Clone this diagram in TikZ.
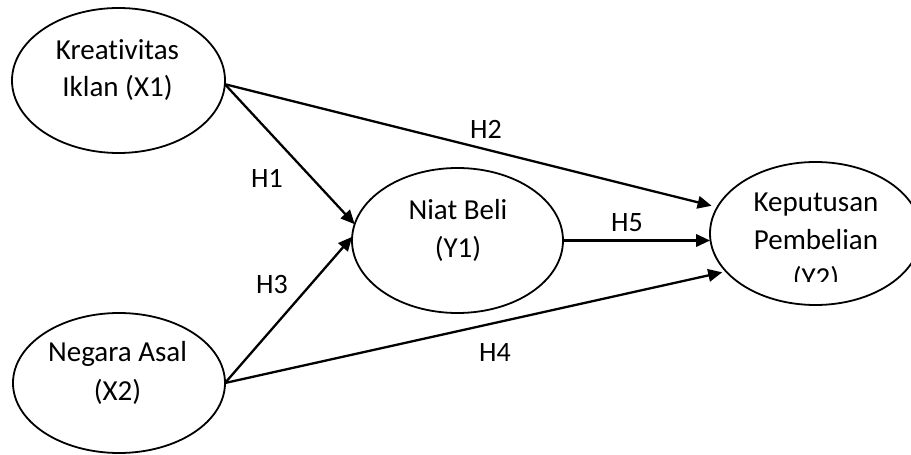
\documentclass[tikz,border=0pt]{standalone}
\usepackage{fontspec}
\setmainfont{Carlito}[Ligatures={NoCommon}]
\usetikzlibrary{shapes.geometric,arrows.meta}
\begin{document}
\begin{tikzpicture}[x=1bp,y=-1bp,
  var/.style={draw,ellipse,line width=1.8bp,inner sep=0pt,outer sep=0pt},
  txt/.style={anchor=base,inner sep=0pt,font=\fontsize{29bp}{35bp}\selectfont},
  hyp/.style={anchor=base,inner sep=0pt,font=\fontsize{28bp}{34bp}\selectfont},
  arr/.style={line width=2.3bp,-{Triangle[length=14bp,width=12.5bp]}}]
\clip (0,0) rectangle (911,455);
\fill[white] (0,0) rectangle (911,455);
% ellipses
\node[var,minimum width=213bp,minimum height=145bp] (x1) at (118.5,80.5) {};
\node[var,minimum width=212bp,minimum height=140bp] (x2) at (119,383) {};
\node[var,minimum width=211bp,minimum height=145bp] (y1) at (457.5,240.5) {};
\node[var,minimum width=211bp,minimum height=143bp] (y2) at (815.5,233.5) {};
% texts
\node[txt] (t11) at (117.5,60) {Kreativitas};
\node[txt] (t12) at (117.5,97) {Iklan (X1)};
\node[txt] (t21) at (117.5,362) {Negara Asal};
\node[txt] (t22) at (117.5,400) {(X2)};
\node[txt] (t31) at (458,220) {Niat Beli};
\node[txt] (t32) at (458,258) {(Y1)};
\node[txt] (t41) at (816,212) {Keputusan};
\node[txt] (t42) at (816,250) {Pembelian};
\begin{scope}
\clip (700,150) rectangle (930,282);
\node[txt] (t43) at (816,288) {(Y2)};
\end{scope}
% connectors
\draw[arr] (x1.-2.4) -- (y1.171);
\draw[arr,shorten >=6bp] (x1.-2.4) -- (y2.165);
\draw[arr] (x2.east) -- (y1.178.6);
\draw[arr,shorten >=4bp] (x2.east) -- (y2.203);
\draw[arr] (y1.east) -- (y1.east -| y2.west);
% labels
\node[hyp] (h1) at (267,188) {H1};
\node[hyp] (h2) at (486,139) {H2};
\node[hyp] (h3) at (272,294) {H3};
\node[hyp] (h4) at (495,362) {H4};
\node[hyp] (h5) at (627,232) {H5};
\end{tikzpicture}
\end{document}
